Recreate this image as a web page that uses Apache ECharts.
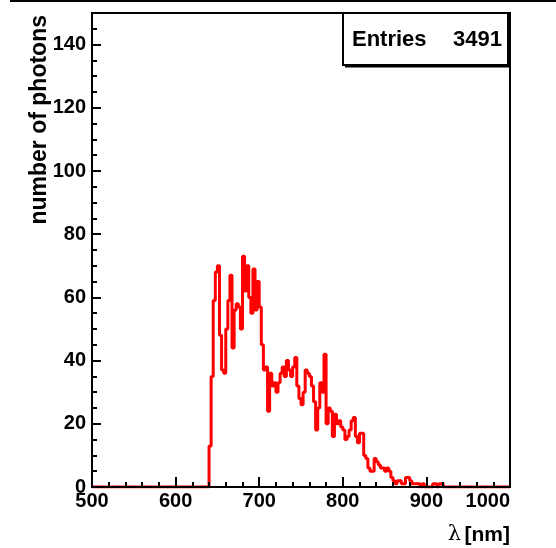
<!DOCTYPE html>
<html>
<head>
<meta charset="utf-8">
<script src="https://cdn.jsdelivr.net/npm/echarts@6/dist/echarts.min.js"></script>
<style>
  html, body { margin: 0; padding: 0; background: #fff; }
  #panel { width: 556px; height: 548px; }
</style>
</head>
<body>
<div id="panel"></div>
<script>
  // histogram: 2.5 nm bins, first filled bin starts at 640 nm
  const xMin = 500;
  const xMax = 1000;
  const binWidth = 2.5;
  const firstBin = 640;
  const counts = [
    13, 35, 59, 68, 70, 48, 37, 36, 50, 59,
    67, 44, 56, 58, 57, 50, 73, 62, 70, 60,
    55, 69, 56, 65, 57, 45, 37, 38, 24, 36,
    32, 33, 30, 33, 36, 38, 35, 40, 37, 35,
    38, 41, 32, 28, 26, 30, 37, 36, 35, 32,
    27, 18, 25, 33, 30, 42, 20, 25, 24, 16,
    23, 20, 21, 19, 18, 15, 16, 18, 21, 22,
    16, 14, 17, 17, 10, 9, 6, 5, 5, 9,
    8, 7, 6, 6, 5, 6, 5, 3, 2, 1,
    2, 2, 1, 1, 3, 3, 2, 1, 1, 1,
    1, 0, 1, 0, 0, 0, 0, 1, 1, 0,
    1, 1, 0
  ];
  const xTicks = [500, 600, 700, 800, 900, 1000];
  const yTicks = [0, 20, 40, 60, 80, 100, 120, 140];
  const entries = 3491;

  // full range of bins (empty ones drawn at 0, like ROOT does)
  let steps = [];
  let nBins = Math.round((xMax - xMin) / binWidth);
  let offset = Math.round((firstBin - xMin) / binWidth);
  for (let i = 0; i < nBins; i++) {
    let c = counts[i - offset];
    steps.push([xMin + i * binWidth, c === undefined ? 0 : c]);
  }
  steps.push([xMax, steps[steps.length - 1][1]]);

  let panel = echarts.init(document.getElementById("panel"));
  let font = "'Liberation Sans', Arial, sans-serif";
  let option = {
    animation: false,
    grid: {
      left: 92,
      right: 46,
      top: 13,
      bottom: 61,
      show: true,
      borderColor: "#000",
      borderWidth: 2,
      backgroundColor: "#fff"
    },
    xAxis: {
      type: "value",
      min: xMin,
      max: xMax,
      interval: 100,
      z: 5,
      axisLine: { lineStyle: { color: "#000", width: 2 } },
      axisTick: { inside: true, length: 10, lineStyle: { color: "#000", width: 2 } },
      minorTick: { show: true, splitNumber: 5, length: 5, lineStyle: { color: "#000", width: 2 } },
      splitLine: { show: false },
      axisLabel: {
        margin: 4,
        color: "#000",
        fontFamily: font,
        fontWeight: "bold",
        fontSize: 20,
        alignMaxLabel: "right",
        formatter: v => xTicks.indexOf(v) >= 0 ? String(v) : ""
      }
    },
    yAxis: [{
      type: "value",
      min: 0,
      max: 150,
      interval: 20,
      z: 5,
      axisLine: { lineStyle: { color: "#000", width: 2 } },
      axisTick: { inside: true, length: 9, lineStyle: { color: "#000", width: 2 } },
      splitLine: { show: false },
      axisLabel: {
        margin: 6,
        color: "#000",
        fontFamily: font,
        fontWeight: "bold",
        fontSize: 20,
        formatter: v => yTicks.indexOf(v) >= 0 ? String(v) : ""
      }
    }, {
      // minor ticks every 5
      type: "value",
      position: "left",
      min: 0,
      max: 150,
      interval: 5,
      axisLine: { show: false },
      axisTick: { inside: true, length: 5, lineStyle: { color: "#000", width: 2 } },
      axisLabel: { show: false },
      splitLine: { show: false }
    }],
    series: [{
      name: "photons",
      type: "line",
      step: "end",
      showSymbol: false,
      z: 1,
      lineStyle: { color: "#ff0000", width: 3 },
      data: steps
    }],
    graphic: [
      {
        type: "line",
        shape: { x1: 10, y1: 1, x2: 556, y2: 1 },
        style: { stroke: "#000", lineWidth: 2 }
      },
      {
        type: "rect",
        shape: { x: 343, y: 13, width: 165, height: 52 },
        style: { fill: "#fff", stroke: "#000", lineWidth: 2 },
        z: 10
      },
      {
        type: "line",
        shape: { x1: 345, y1: 66, x2: 510, y2: 66 },
        style: { stroke: "#000", lineWidth: 3 },
        z: 10
      },
      {
        type: "text",
        x: 352,
        y: 40,
        z: 11,
        style: {
          text: "Entries",
          fill: "#000",
          font: "bold 22px " + font,
          textVerticalAlign: "middle"
        }
      },
      {
        type: "text",
        x: 502,
        y: 40,
        z: 11,
        style: {
          text: String(entries),
          fill: "#000",
          font: "bold 22px " + font,
          textAlign: "right",
          textVerticalAlign: "middle"
        }
      },
      {
        type: "text",
        x: 40,
        y: 15,
        rotation: Math.PI / 2,
        style: {
          text: "number of photons",
          fill: "#000",
          font: "bold 23px " + font,
          textAlign: "right",
          textVerticalAlign: "middle"
        }
      },
      {
        type: "text",
        x: 510,
        y: 535,
        style: {
          text: "{l|λ} {n|[nm]}",
          textAlign: "right",
          textVerticalAlign: "middle",
          rich: {
            l: { font: "21px 'DejaVu Serif', serif", fill: "#000" },
            n: { font: "bold 21px " + font, fill: "#000" }
          }
        }
      }
    ]
  };
  panel.setOption(option, true);
</script>
</body>
</html>
